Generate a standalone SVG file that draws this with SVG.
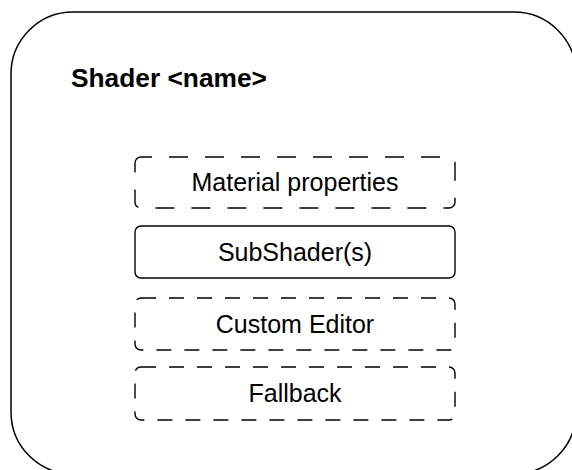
<svg xmlns="http://www.w3.org/2000/svg" width="572" height="470" viewBox="0 0 572 470">
  <style>
    .frame { fill: #ffffff; stroke: #000000; stroke-width: 1.5; }
    .box { fill: #ffffff; stroke: #000000; stroke-width: 1.4; }
    .dash-wide { stroke-dasharray: 19 17; }
    .dash-narrow { stroke-dasharray: 15 13; }
    .title { font-family: "Liberation Sans", Arial, sans-serif; font-weight: bold; font-size: 26.3px; fill: #000000; }
    .label { font-family: "Liberation Sans", Arial, sans-serif; font-size: 25px; fill: #000000; text-anchor: middle; }
  </style>
  <rect width="572" height="470" fill="#ffffff"/>

  <!-- Shader container (runs past the right and bottom edges) -->
  <g id="shader">
    <rect class="frame" x="11" y="12" width="565" height="462" rx="62" ry="62"/>
    <text class="title" x="71" y="87">Shader &lt;name&gt;</text>
  </g>

  <!-- Blocks inside the shader -->
  <g id="material-properties">
    <rect class="box dash-wide" x="135" y="157" width="320" height="51" rx="6" ry="6" stroke-dashoffset="8"/>
    <text class="label" x="295" y="191">Material properties</text>
  </g>

  <g id="subshaders">
    <rect class="box" x="135" y="226" width="320" height="52" rx="6" ry="6"/>
    <text class="label" x="295" y="261">SubShader(s)</text>
  </g>

  <g id="custom-editor">
    <rect class="box dash-narrow" x="135" y="298" width="320" height="52" rx="6" ry="6"/>
    <text class="label" x="295" y="333">Custom Editor</text>
  </g>

  <g id="fallback">
    <rect class="box dash-narrow" x="135" y="367" width="320" height="53" rx="6" ry="6"/>
    <text class="label" x="295" y="402">Fallback</text>
  </g>

  <g id="connectors"></g>
</svg>
